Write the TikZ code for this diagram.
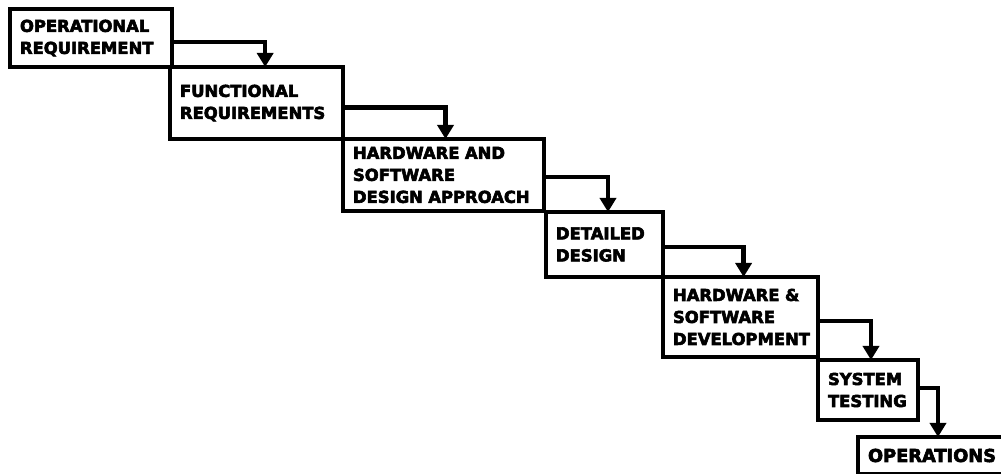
\documentclass[tikz,border=0pt]{standalone}
\usepackage{fontspec}
\setsansfont{DejaVu Sans}[BoldFeatures={FakeBold=3.5}]
\usetikzlibrary{positioning,calc,arrows.meta}
\tikzstyle{stage}=[draw, line width=2.3pt, rectangle, outer sep=0pt, inner xsep=5pt, inner ysep=2pt, align=left, font=\sffamily\bfseries\fontsize{8.2}{11}\selectfont]
\tikzstyle{flow}=[line width=2.2pt, -{Triangle[width=8pt,length=7pt]}]

\begin{document}
\begin{tikzpicture}
        \useasboundingbox (-5pt,4.5pt) rectangle (495.5pt,-232.5pt);
        \clip (-5pt,4.5pt) rectangle (495.5pt,-232.5pt);
        \node[stage, anchor=north west, text width=71pt, minimum height=29pt] (opreq) at (0,0) {OPERATIONAL\\REQUIREMENT};
        \node[stage, text width=76.5pt, minimum height=36pt] (funreq) [below right=0pt and -1pt of opreq] {FUNCTIONAL\\REQUIREMENTS};
        \node[stage, text width=90.5pt, minimum height=36pt] (design) [below right=0pt and 0pt of funreq] {HARDWARE AND\\SOFTWARE\\DESIGN APPROACH};
        \node[stage, text width=48.5pt, minimum height=32.5pt] (detail) [below right=0.5pt and 1pt of design] {DETAILED\\DESIGN};
        \node[stage, text width=67.5pt, minimum height=40pt] (develop) [below right=0pt and 0pt of detail] {HARDWARE \&\\SOFTWARE\\DEVELOPMENT};
        \node[stage, text width=40pt, minimum height=30pt] (test) [below right=1.5pt and 0pt of develop] {SYSTEM\\TESTING};
        \node[stage, text width=90pt, minimum height=18.5pt, font=\sffamily\bfseries\fontsize{8.9}{11}\selectfont] (ops) [below right=8.5pt and -30pt of test] {OPERATIONS};
        % hand-over from each stage to the next
        \foreach \a/\b/\s/\t in {opreq/funreq/0.57/0.55, funreq/design/0.56/0.51, design/detail/0.53/0.53,
                                 detail/develop/0.54/0.52, develop/test/0.55/0.53, test/ops/0.47/0.4}
          \draw[flow] ($(\a.north east)!\s!(\a.south east)$) -| ($(\b.north west)!\t!(\b.north east)$);
\end{tikzpicture}
\end{document}
